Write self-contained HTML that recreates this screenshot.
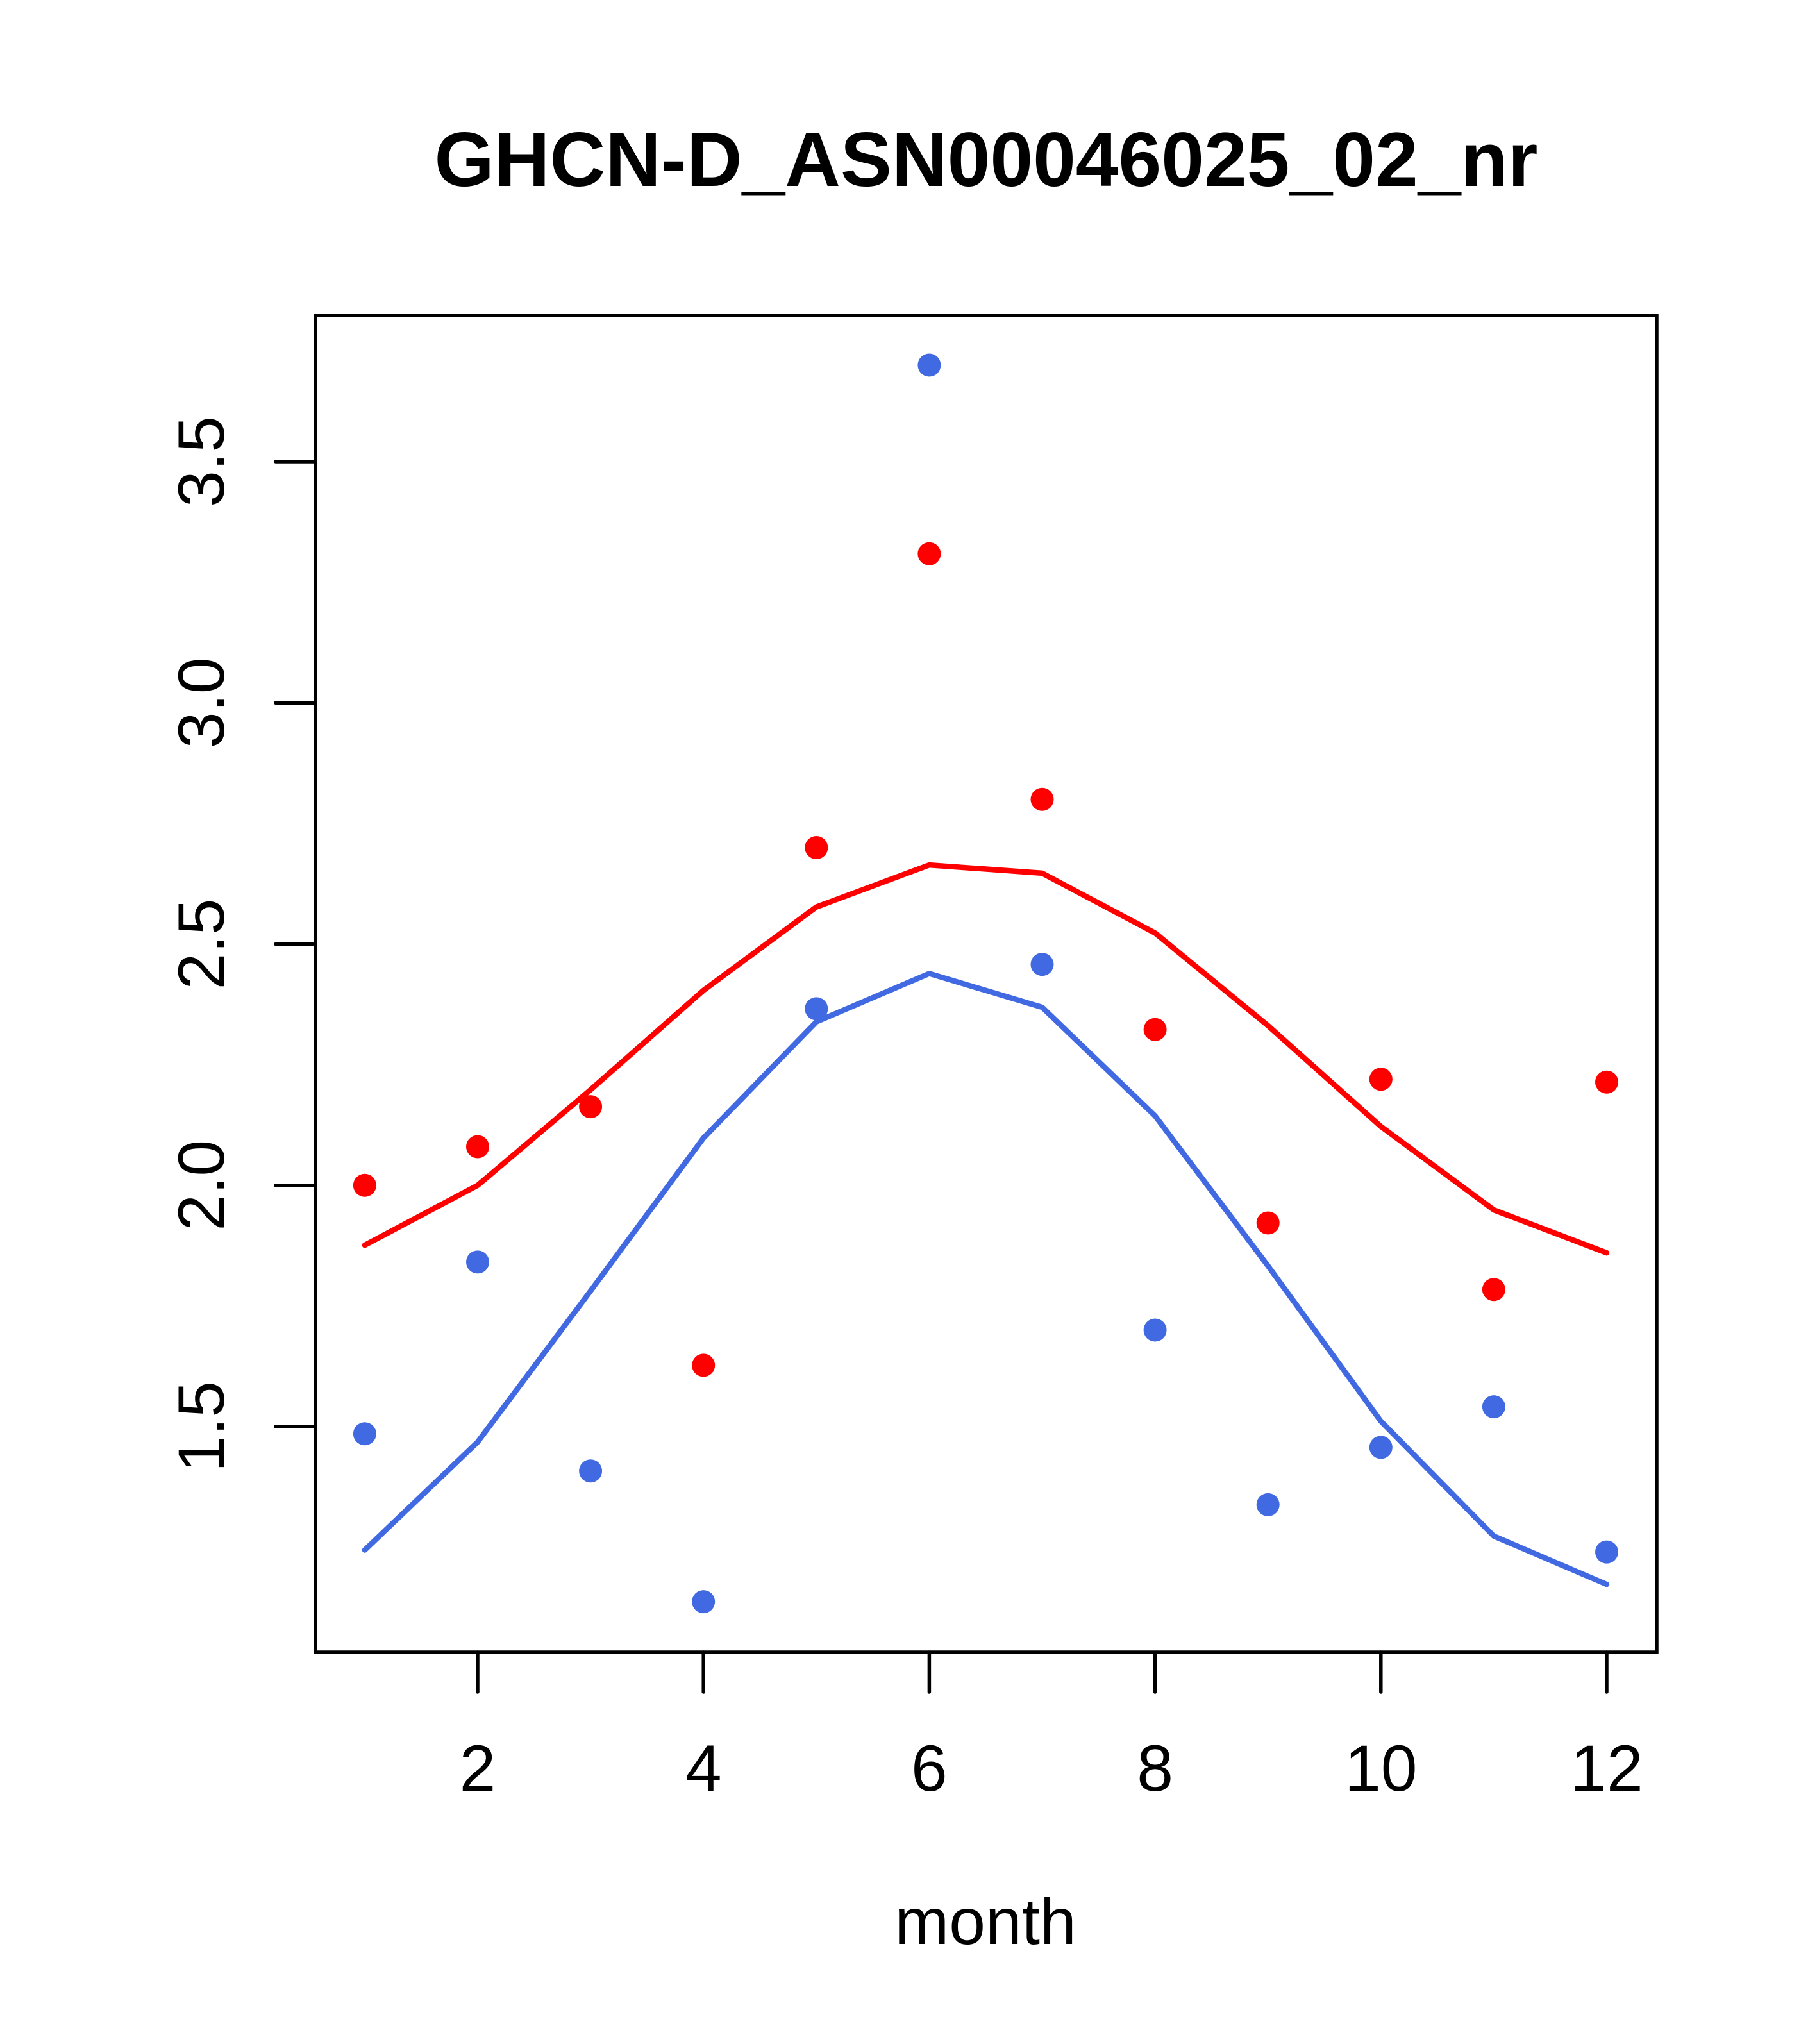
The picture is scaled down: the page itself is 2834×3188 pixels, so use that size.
<!DOCTYPE html>
<html><head><meta charset="utf-8"><style>
html,body{margin:0;padding:0;background:#fff;}
svg{display:block;}
text{font-family:"Liberation Sans",Arial,sans-serif;}
</style></head><body>
<svg id="chart" width="2834" height="3188" viewBox="0 0 2834 3188" xmlns="http://www.w3.org/2000/svg">
<rect x="0" y="0" width="2834" height="3188" fill="#fff"/>
<text x="1538" y="290" text-anchor="middle" font-size="120" font-weight="bold">GHCN-D_ASN00046025_02_nr</text>
<g id="plot"></g>
<text x="1537" y="3032" text-anchor="middle" font-size="102">month</text>
</svg>
<script>
const months = [1,2,3,4,5,6,7,8,9,10,11,12];
const redPoints = [2.00,2.08,2.163,1.627,2.70,3.309,2.80,2.323,1.922,2.22,1.784,2.214];
const redLine = [1.876,2.0,2.198,2.404,2.577,2.664,2.647,2.523,2.331,2.122,1.949,1.86];
const bluePoints = [1.485,1.841,1.408,1.137,2.366,3.70,2.458,1.70,1.338,1.457,1.541,1.240];
const blueLine = [1.244,1.468,1.781,2.098,2.339,2.439,2.369,2.144,1.833,1.511,1.273,1.173];
const xTicks = [2,4,6,8,10,12];
const yTicks = [1.5,2.0,2.5,3.0,3.5];
const yTickLabels = ["1.5","2.0","2.5","3.0","3.5"];

const NS = "http://www.w3.org/2000/svg";
const L = 492, R = 2584, T = 492, B = 2577;
function xs(m){ return 745 + (m - 2) * 176.1; }
function ys(v){ return 720 + (3.5 - v) * 752.5; }
const g = document.getElementById('plot');
function mk(tag, attrs){ const e = document.createElementNS(NS, tag); for (const k in attrs) e.setAttribute(k, attrs[k]); g.appendChild(e); return e; }

function drawLine(vals, color, name){
  const d = vals.map((v,i)=>(i?'L':'M')+xs(months[i]).toFixed(1)+','+ys(v).toFixed(1)).join(' ');
  const p = mk('path', {d:d, fill:'none', stroke:color, 'stroke-width':8.5, 'stroke-linejoin':'round', 'stroke-linecap':'round'});
  
  
}
function drawPts(vals, color, name){
  vals.forEach((v,i)=>{
    const c = mk('circle', {cx:xs(months[i]), cy:ys(v), r:18, fill:color});
    
    
  });
}
drawLine(redLine, '#ff0000', 'red-line');
drawLine(blueLine, '#4169e1', 'blue-line');
drawPts(redPoints, '#ff0000', 'red-point');
drawPts(bluePoints, '#4169e1', 'blue-point');

const box = mk('rect', {x:L, y:T, width:R-L, height:B-T, fill:'none', stroke:'#000', 'stroke-width':5.5});



xTicks.forEach(t=>{
  const x = xs(t);
  const ln = mk('line', {x1:x, y1:B, x2:x, y2:B+62, stroke:'#000', 'stroke-width':5.5, 'stroke-linecap':'round'});
  
  
  const tx = mk('text', {x:x, y:2793, 'text-anchor':'middle', 'font-size':102});
  tx.textContent = String(t);
  
  
});
yTicks.forEach((t,i)=>{
  const y = ys(t);
  const ln = mk('line', {x1:L-62, y1:y, x2:L, y2:y, stroke:'#000', 'stroke-width':5.5, 'stroke-linecap':'round'});
  
  
  const tx = mk('text', {x:0, y:0, 'text-anchor':'middle', 'font-size':102, transform:'translate(349,'+y+') rotate(-90)'});
  tx.textContent = yTickLabels[i];
  
  
});
</script>
</body></html>
